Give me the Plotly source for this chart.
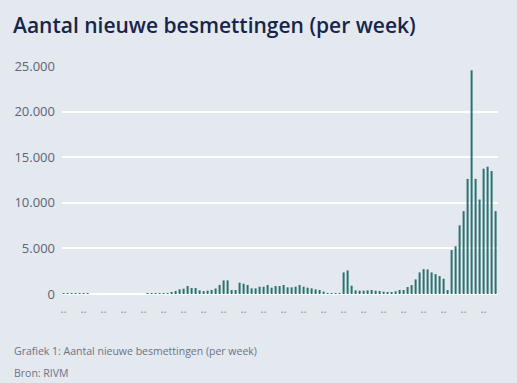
import plotly.graph_objects as go

title_text = "Aantal nieuwe besmettingen (per week)"
caption_text = "Grafiek 1: Aantal nieuwe besmettingen (per week)"
source_text = "Bron: RIVM"

weeks = list(range(109))
cases = [
    15, 20, 15, 20, 15, 15, 10, 0, 0, 0,
    0, 0, 0, 0, 0, 0, 0, 0, 0, 0,
    0, 10, 15, 20, 20, 25, 73, 218, 328, 510,
    582, 874, 655, 655, 400, 310, 364, 437, 600, 1000,
    1492, 1492, 437, 437, 1238, 1128, 983, 619, 619, 800,
    800, 983, 692, 874, 874, 983, 728, 728, 800, 983,
    800, 692, 619, 510, 437, 255, 109, 73, 36, 109,
    2366, 2584, 910, 400, 364, 364, 400, 437, 364, 328,
    255, 218, 218, 291, 437, 437, 764, 983, 1600, 2366,
    2730, 2694, 2366, 2184, 1966, 1674, 437, 4818, 5230, 7530,
    9090, 12620, 24530, 12620, 10360, 13740, 13960, 13480, 9090,
]
tick_positions = list(range(0, 109, 5))
tick_labels = [".." for _ in tick_positions]
y_ticks = [0, 5000, 10000, 15000, 20000, 25000]
y_tick_labels = ["0", "5.000", "10.000", "15.000", "20.000", "25.000"]

bg = "#e4e8ef"
fig = go.Figure(go.Bar(x=weeks, y=cases, marker_color="#2a7371", marker_line_width=0))

fig.update_layout(
    width=517, height=383,
    paper_bgcolor=bg, plot_bgcolor=bg,
    margin=dict(l=62, r=19, t=66, b=89),
    bargap=0.5,
    showlegend=False,
    font=dict(family="Open Sans", color="#5b6478"),
)
fig.update_xaxes(
    range=[-0.4, 108.6], tickvals=tick_positions, ticktext=tick_labels,
    showgrid=False, zeroline=False, showline=False, ticks="",
    tickfont=dict(size=12, color="#8a93a5"), ticklabelstandoff=6,
)
fig.update_yaxes(
    range=[0, 25000], tickvals=y_ticks, ticktext=y_tick_labels,
    showgrid=True, gridcolor="#ffffff", gridwidth=1.5,
    zeroline=True, zerolinecolor="#ffffff", zerolinewidth=1.5,
    showline=False, ticks="", ticklabelstandoff=6,
    tickfont=dict(size=13, color="#5b6478"),
)
fig.add_annotation(
    text=title_text, xref="paper", yref="paper", x=-51/436, y=1 + 41/228,
    xanchor="left", yanchor="middle", showarrow=False,
    font=dict(family="Open Sans", size=21, color="#17254a", weight=600),
)
fig.add_annotation(
    text=caption_text, xref="paper", yref="paper", x=-50/436, y=-57/228,
    xanchor="left", yanchor="middle", showarrow=False,
    font=dict(family="Open Sans", size=10.5, color="#6b7385"),
)
fig.add_annotation(
    text=source_text, xref="paper", yref="paper", x=-50/436, y=-78.5/228,
    xanchor="left", yanchor="middle", showarrow=False,
    font=dict(family="Open Sans", size=10.5, color="#6b7385"),
)
fig.write_html(
    "out.html",
    config={"displayModeBar": False},
    post_script="document.body.style.margin='0';document.body.style.background='#e4e8ef';",
)
